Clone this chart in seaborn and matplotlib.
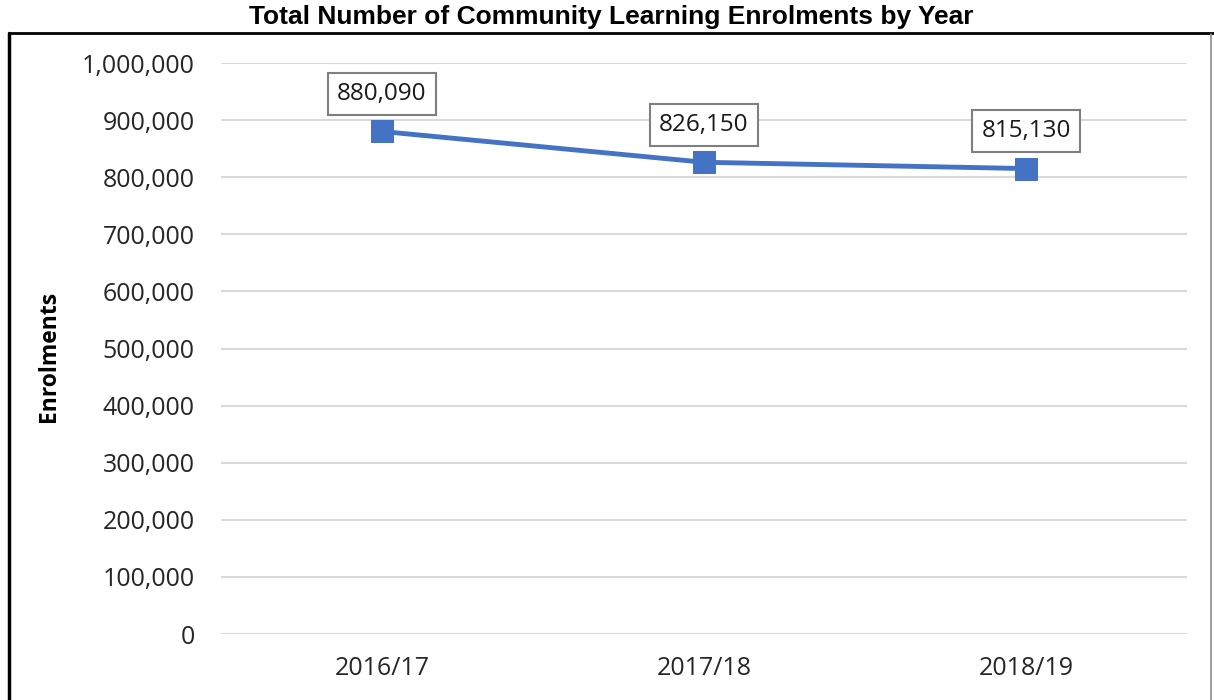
import matplotlib
matplotlib.use('Agg')
import matplotlib.pyplot as plt
import matplotlib.ticker as mticker
from matplotlib.lines import Line2D
import seaborn as sns
import pandas as pd

# Chart data
years = ['2016/17', '2017/18', '2018/19']
enrolments = [880090, 826150, 815130]

df = pd.DataFrame({'Year': years, 'Enrolments': enrolments})

sns.set_style("white")
plt.rcParams['font.family'] = ['Open Sans', 'DejaVu Sans']

fig = plt.figure(figsize=(12.14, 7.0), dpi=100)
ax = fig.add_axes([221 / 1214, 1 - 634 / 700, (1187 - 221) / 1214, (634 - 63) / 700])

sns.lineplot(data=df, x='Year', y='Enrolments', ax=ax, color='#4472C4',
             linewidth=3.5, marker='s', markersize=16, markeredgecolor='#4472C4',
             sort=False)

ax.set_xlim(-0.5, 2.5)
ax.set_ylim(0, 1000000)
ax.yaxis.set_major_locator(mticker.MultipleLocator(100000))
ax.yaxis.set_major_formatter(mticker.FuncFormatter(lambda v, p: f'{int(v):,}'))
ax.grid(axis='y', color='#d9d9d9', linewidth=1.5)
ax.set_axisbelow(True)
for s in ax.spines.values():
    s.set_visible(False)
ax.tick_params(axis='both', length=0, labelsize=18, colors='#262626')
ax.tick_params(axis='y', pad=19)
ax.tick_params(axis='x', pad=16)

ax.set_xlabel('')
ax.set_ylabel('Enrolments', fontsize=16.5, fontweight='bold', color='black')
ax.yaxis.set_label_coords(-0.166, 0.486)

for i, v in enumerate(enrolments):
    ax.annotate(f'{v:,}', xy=(i, v), xytext=(0, 27), textcoords='offset points',
                ha='center', va='center', fontsize=17.5, color='#1a1a1a',
                bbox=dict(boxstyle='square,pad=0.38', fc='white', ec='#7f7f7f', lw=1.5))

# outer border of chart: black left and top, grey right
fig.add_artist(Line2D([9 / 1214, 9 / 1214], [0, 1 - 33 / 700], transform=fig.transFigure,
                      color='black', lw=2.5))
fig.add_artist(Line2D([9 / 1214, 1], [1 - 33 / 700, 1 - 33 / 700], transform=fig.transFigure,
                      color='black', lw=2))
fig.add_artist(Line2D([1211 / 1214, 1211 / 1214], [0, 1 - 34 / 700], transform=fig.transFigure,
                      color='#8c8c8c', lw=1.2))

fig.text(611 / 1214, 1 - 17 / 700, 'Total Number of Community Learning Enrolments by Year',
         ha='center', va='center', fontsize=19, fontweight='bold', color='black',
         family=['Liberation Sans', 'DejaVu Sans'])

fig.savefig('out.png', dpi=100)
